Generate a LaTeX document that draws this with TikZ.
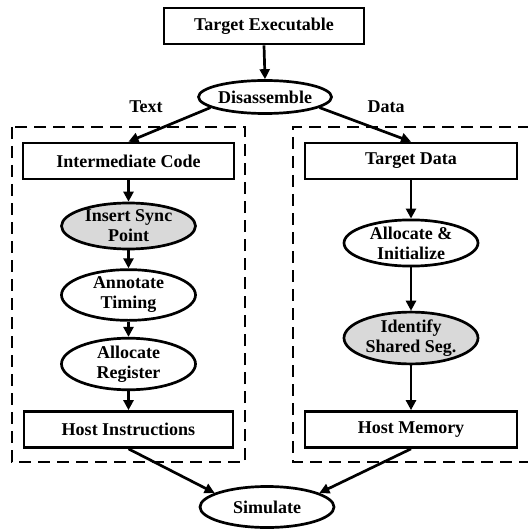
\documentclass[tikz,border=0pt]{standalone}
\usepackage{fontspec}
\setmainfont{Liberation Serif}
\usetikzlibrary{shapes.geometric,arrows.meta}
\begin{document}
\begin{tikzpicture}[x=1pt,y=-1pt,
  every node/.style={font=\fontsize{18}{20}\selectfont\bfseries, align=center},
  box/.style={draw, line width=2.7pt, rectangle, minimum height=36pt, inner sep=0pt},
  oval/.style={draw, line width=2.7pt, ellipse, minimum width=134pt, minimum height=46pt, inner sep=0pt},
  shaded/.style={fill=gray!30},
  arr/.style={line width=2.7pt, -{Triangle[length=10pt,width=10pt]}},
  dashbox/.style={line width=2.3pt, dash pattern=on 12pt off 7pt}]
\useasboundingbox (0,0) rectangle (527,529);
% containers
\draw[dashbox] (12,127) rectangle (245,462);
\draw[dashbox] (530,127) -- (293,127) -- (293,462) -- (530,462);
% nodes
\node[box, minimum width=200pt] (te) at (264,26) {Target Executable};
\node[oval, minimum width=133pt, minimum height=33pt] (dis) at (265,97) {Disassemble};
\node (lt) at (146,107) {Text};
\node (ld) at (386,107) {Data};
\node[box, minimum width=211pt] (ic) at (128.5,161) {Intermediate Code};
\node[box, minimum width=212pt] (td) at (411,161) {Target Data};
\node[oval, shaded] (isp) at (128.5,226) {Insert Sync\\Point};
\node[oval] (at) at (128.5,295) {Annotate\\Timing};
\node[oval] (ar) at (128.5,364) {Allocate\\Register};
\node[box, minimum width=209pt] (hi) at (128.5,429.5) {Host Instructions};
\node[oval] (ai) at (411,243) {Allocate \&\\Initialize};
\node[oval, shaded] (is) at (411,338) {Identify\\Shared Seg.};
\node[box, minimum width=212pt] (hm) at (411,429.5) {Host Memory};
\node[oval, minimum width=134pt, minimum height=41pt] (sim) at (267,507) {Simulate};
% connectors
\draw[arr] (te.south) -- (dis.north);
\draw[arr] (dis.191) -- (ic.north);
\draw[arr] (dis.-11) -- (td.north);
\draw[arr] (ic.south) -- (isp.north);
\draw[arr] (isp.south) -- (at.north);
\draw[arr] (at.south) -- (ar.north);
\draw[arr] (ar.south) -- (hi.north);
\draw[arr] (td.south) -- (ai.north);
\draw[arr] (ai.south) -- (is.north);
\draw[arr] (is.south) -- (hm.north);
\draw[arr] (hi.south) -- (sim.165);
\draw[arr] (hm.south) -- (sim.15);
\end{tikzpicture}
\end{document}
